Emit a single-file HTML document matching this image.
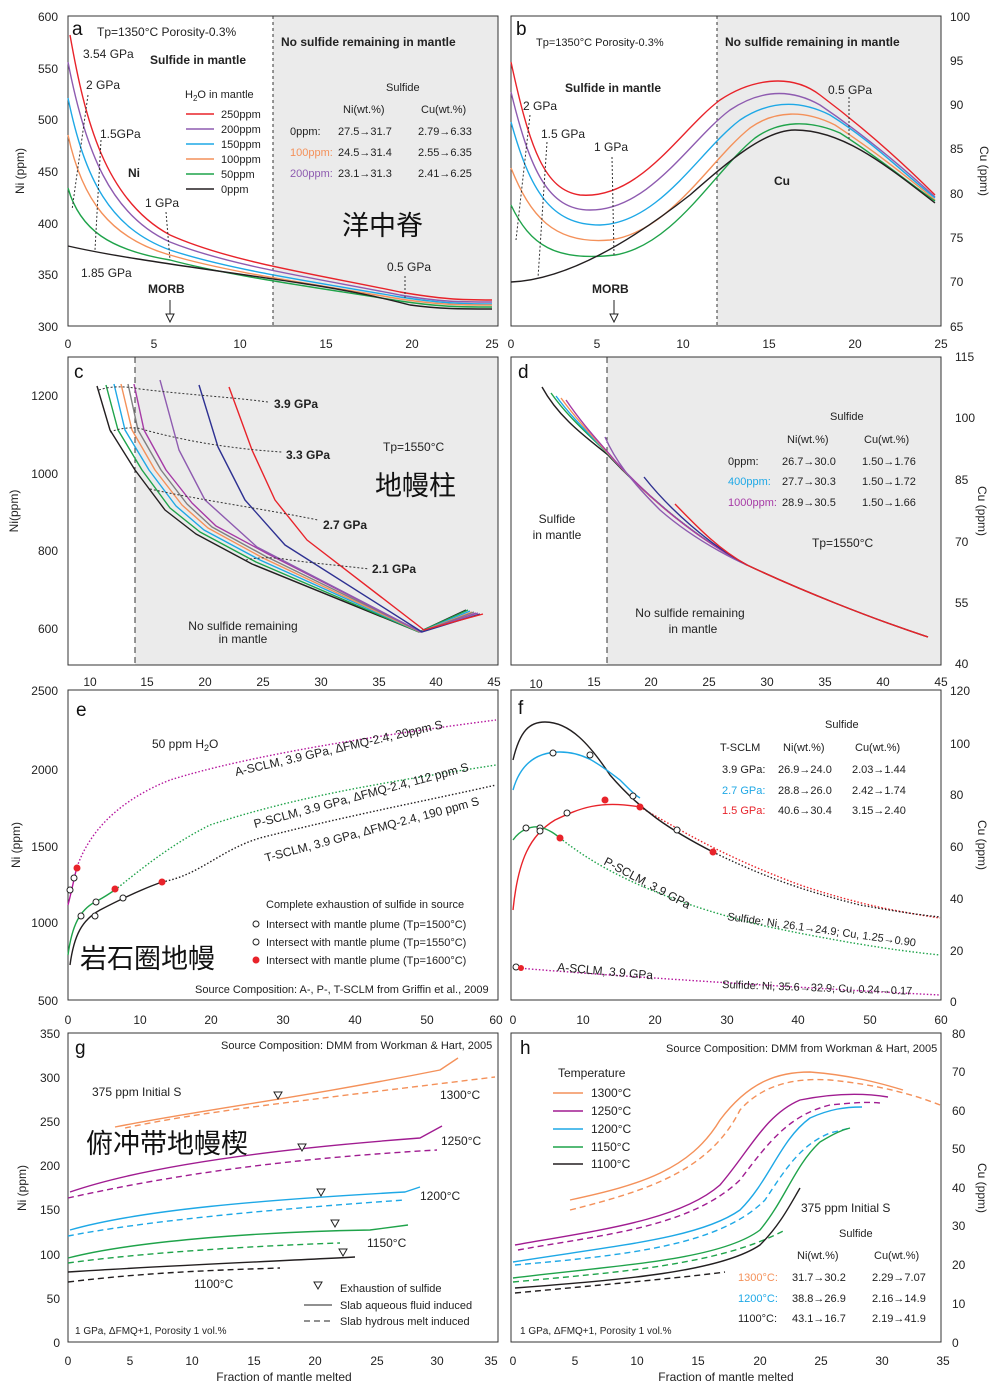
<!DOCTYPE html>
<html><head><meta charset="utf-8"><style>
body{margin:0;background:#fff}
svg{display:block;font-family:"Liberation Sans","Noto Sans CJK SC",sans-serif}
.t{font-size:12px;fill:#222}
.s{font-size:11px;fill:#222}
.L{font-size:19px;fill:#111}
.b{font-weight:bold}
.ax{fill:none;stroke:#333;stroke-width:1}
.c{fill:none;stroke-width:1.4;stroke-linejoin:round}
.d{fill:none;stroke:#333;stroke-width:1;stroke-dasharray:2 2}
.cj{font-size:27px;fill:#111}
</style></head><body>
<svg width="1000" height="1389" viewBox="0 0 1000 1389">
<!-- shaded regions -->
<rect x="273" y="16" width="225" height="310" fill="#ebebeb"/>
<rect x="717" y="16" width="224" height="310" fill="#ebebeb"/>
<rect x="135" y="357" width="363" height="308" fill="#ebebeb"/>
<rect x="607" y="357" width="334" height="308" fill="#ebebeb"/>
<!-- frames -->
<rect class="ax" x="68" y="16" width="430" height="310"/>
<rect class="ax" x="511" y="16" width="430" height="310"/>
<rect class="ax" x="68" y="357" width="430" height="308"/>
<rect class="ax" x="511" y="357" width="430" height="308"/>
<rect class="ax" x="68" y="690" width="430" height="310"/>
<rect class="ax" x="511" y="690" width="430" height="310"/>
<rect class="ax" x="68" y="1033" width="430" height="309"/>
<rect class="ax" x="511" y="1033" width="430" height="309"/>
<line x1="273" y1="16" x2="273" y2="326" stroke="#333" stroke-dasharray="3 3"/>
<line x1="717" y1="16" x2="717" y2="326" stroke="#333" stroke-dasharray="3 3"/>
<line x1="135" y1="357" x2="135" y2="665" stroke="#333" stroke-dasharray="6 4"/>
<line x1="607" y1="357" x2="607" y2="665" stroke="#333" stroke-dasharray="6 4"/>

<!-- ===== Panel a ===== -->
<g class="t" text-anchor="end">
<text x="58" y="21">600</text><text x="58" y="73">550</text><text x="58" y="124">500</text><text x="58" y="176">450</text><text x="58" y="228">400</text><text x="58" y="279">350</text><text x="58" y="331">300</text>
</g>
<g class="t" text-anchor="middle">
<text x="68" y="348">0</text><text x="154" y="348">5</text><text x="240" y="348">10</text><text x="326" y="348">15</text><text x="412" y="348">20</text><text x="492" y="348">25</text>
<text x="511" y="348">0</text><text x="597" y="348">5</text><text x="683" y="348">10</text><text x="769" y="348">15</text><text x="855" y="348">20</text><text x="941" y="348">25</text>
</g>
<text class="t" transform="translate(24,171) rotate(-90)" text-anchor="middle" font-size="13">Ni (ppm)</text>
<g fill="none" class="c">
<path stroke="#e8232a" d="M70,35 C85,120 105,200 170,235 C230,262 320,275 400,292 C440,299 460,300 492,300"/>
<path stroke="#8e5bb0" d="M68,62 C85,150 110,215 170,242 C230,266 320,279 400,295 C440,302 460,302 492,302"/>
<path stroke="#1ea8e6" d="M68,98 C85,180 110,228 170,250 C230,270 320,283 400,297 C440,303 460,304 492,304"/>
<path stroke="#f4915a" d="M68,135 C82,200 110,238 170,255 C230,273 320,285 400,299 C440,305 460,305 492,305"/>
<path stroke="#1fa34a" d="M68,188 C80,230 110,250 170,260 C230,276 320,288 400,301 C440,307 460,307 492,307"/>
<path stroke="#231f20" d="M68,246 C120,258 200,268 300,283 C360,292 390,300 410,305 C440,309 460,309 492,309"/>
</g>
<g class="d"><line x1="88" y1="95" x2="72" y2="210"/><line x1="101" y1="140" x2="95" y2="250"/><line x1="166" y1="212" x2="170" y2="260"/><line x1="405" y1="276" x2="405" y2="300"/></g>
<text x="72" y="35" class="L">a</text>
<text x="97" y="36" class="t">Tp=1350°C  Porosity-0.3%</text>
<text x="83" y="58" class="t">3.54 GPa</text>
<text x="150" y="64" class="t b">Sulfide in mantle</text>
<text x="86" y="89" class="t">2 GPa</text>
<text x="100" y="138" class="t">1.5GPa</text>
<text x="128" y="177" class="t b">Ni</text>
<text x="145" y="207" class="t">1 GPa</text>
<text x="81" y="277" class="t">1.85 GPa</text>
<text x="148" y="293" class="t b">MORB</text>
<line x1="170" y1="300" x2="170" y2="322" stroke="#222"/><path d="M166,314 L170,322 L174,314Z" fill="#fff" stroke="#222"/>
<text x="387" y="271" class="t">0.5 GPa</text>
<text x="185" y="98" class="s">H<tspan font-size="8" dy="3">2</tspan><tspan dy="-3">O in mantle</tspan></text>
<g stroke-width="1.5"><line x1="186" y1="114" x2="214" y2="114" stroke="#e8232a"/><line x1="186" y1="129" x2="214" y2="129" stroke="#8e5bb0"/><line x1="186" y1="144" x2="214" y2="144" stroke="#1ea8e6"/><line x1="186" y1="159" x2="214" y2="159" stroke="#f4915a"/><line x1="186" y1="174" x2="214" y2="174" stroke="#1fa34a"/><line x1="186" y1="189" x2="214" y2="189" stroke="#231f20"/></g>
<g class="s"><text x="221" y="118">250ppm</text><text x="221" y="133">200ppm</text><text x="221" y="148">150ppm</text><text x="221" y="163">100ppm</text><text x="221" y="178">50ppm</text><text x="221" y="193">0ppm</text></g>
<text x="281" y="46" class="t b">No sulfide remaining in mantle</text>
<text x="386" y="91" class="s">Sulfide</text>
<g class="s"><text x="343" y="113">Ni(wt.%)</text><text x="421" y="113">Cu(wt.%)</text>
<text x="290" y="135">0ppm:</text><text x="338" y="135">27.5→31.7</text><text x="418" y="135">2.79→6.33</text>
<text x="290" y="156" fill="#f4915a">100ppm:</text><text x="338" y="156">24.5→31.4</text><text x="418" y="156">2.55→6.35</text>
<text x="290" y="177" fill="#8e5bb0">200ppm:</text><text x="338" y="177">23.1→31.3</text><text x="418" y="177">2.41→6.25</text></g>
<text x="342" y="235" class="cj">洋中脊</text>

<!-- ===== Panel b ===== -->
<g class="t"><text x="950" y="21">100</text><text x="950" y="65">95</text><text x="950" y="109">90</text><text x="950" y="153">85</text><text x="950" y="198">80</text><text x="950" y="242">75</text><text x="950" y="286">70</text><text x="950" y="331">65</text></g>
<text class="t" transform="translate(980,171) rotate(90)" text-anchor="middle" font-size="13">Cu (ppm)</text>
<g class="c">
<path stroke="#e8232a" d="M511,62 C530,150 545,190 580,195 C640,200 680,130 720,100 C750,80 790,72 820,95 C860,125 900,160 935,195"/>
<path stroke="#8e5bb0" d="M511,92 C530,170 548,210 590,210 C650,210 690,140 730,110 C760,90 790,88 820,105 C860,132 900,165 935,197"/>
<path stroke="#1ea8e6" d="M511,122 C530,190 550,225 600,225 C660,223 700,150 740,120 C770,100 800,100 830,115 C870,140 900,170 935,198"/>
<path stroke="#f4915a" d="M511,168 C530,215 553,245 610,240 C670,232 710,160 750,128 C775,110 805,110 835,125 C870,148 905,175 935,200"/>
<path stroke="#1fa34a" d="M511,205 C530,245 555,262 615,255 C675,245 715,170 755,138 C780,120 810,120 840,133 C875,155 905,180 935,201"/>
<path stroke="#231f20" d="M511,282 C560,280 620,250 690,195 C730,160 765,130 795,130 C840,130 880,160 935,203"/>
</g>
<g class="d"><line x1="530" y1="115" x2="516" y2="240"/><line x1="547" y1="142" x2="538" y2="278"/><line x1="612" y1="157" x2="614" y2="255"/><line x1="849" y1="97" x2="849" y2="140"/></g>
<text x="516" y="35" class="L">b</text>
<text x="536" y="46" class="s">Tp=1350°C  Porosity-0.3%</text>
<text x="725" y="46" class="t b">No sulfide remaining in mantle</text>
<text x="565" y="92" class="t b">Sulfide in mantle</text>
<text x="523" y="110" class="t">2 GPa</text>
<text x="541" y="138" class="t">1.5 GPa</text>
<text x="594" y="151" class="t">1 GPa</text>
<text x="828" y="94" class="t">0.5 GPa</text>
<text x="774" y="185" class="t b">Cu</text>
<text x="592" y="293" class="t b">MORB</text>
<line x1="614" y1="300" x2="614" y2="322" stroke="#222"/><path d="M610,314 L614,322 L618,314Z" fill="#fff" stroke="#222"/>

<!-- ===== Panel c ===== -->
<g class="t" text-anchor="end"><text x="58" y="400">1200</text><text x="58" y="478">1000</text><text x="58" y="555">800</text><text x="58" y="633">600</text></g>
<g class="t" text-anchor="middle"><text x="90" y="686">10</text><text x="147" y="686">15</text><text x="205" y="686">20</text><text x="263" y="686">25</text><text x="321" y="686">30</text><text x="379" y="686">35</text><text x="436" y="686">40</text><text x="494" y="686">45</text>
<text x="536" y="688">10</text><text x="594" y="686">15</text><text x="651" y="686">20</text><text x="709" y="686">25</text><text x="767" y="686">30</text><text x="825" y="686">35</text><text x="883" y="686">40</text><text x="941" y="686">45</text></g>
<text class="t" transform="translate(18,511) rotate(-90)" text-anchor="middle" font-size="13">Ni(ppm)</text>
<g class="c" stroke-width="1.2">
<polyline stroke="#231f20" points="97,386 110,430 135,470 165,510 196,534 252,564 419,632 466,610"/>
<polyline stroke="#1fa34a" points="106,385 118,430 142,470 170,508 200,532 256,562 419,632 468,610"/>
<polyline stroke="#1ea8e6" points="114,384 125,430 149,470 176,506 204,530 260,560 420,632 470,611"/>
<polyline stroke="#f4915a" points="121,384 132,430 155,470 182,505 208,528 263,558 420,632 472,612"/>
<polyline stroke="#808080" points="128,384 138,430 161,470 187,504 212,527 265,556 421,632 474,612"/>
<polyline stroke="#a63aa6" points="134,384 144,430 166,470 192,503 216,526 268,554 421,632 476,613"/>
<polyline stroke="#8e5bb0" points="160,380 179,450 205,500 257,547 421,632 478,613"/>
<polyline stroke="#2e3192" points="199,385 218,447 245,500 285,545 422,632 480,614"/>
<polyline stroke="#e8232a" points="229,387 252,450 275,500 307,540 424,630 483,614"/>
</g>
<g class="d"><path d="M99,390 C110,386 125,386 140,389 C190,395 230,397 268,402"/><path d="M110,432 C120,428 135,426 145,430 C200,445 250,450 282,452"/><path d="M150,489 C200,500 270,510 318,520"/><path d="M246,560 C258,557 275,557 290,560 C320,564 345,566 369,569"/></g>
<text x="74" y="378" class="L">c</text>
<text x="274" y="408" class="t b">3.9 GPa</text>
<text x="286" y="459" class="t b">3.3 GPa</text>
<text x="323" y="529" class="t b">2.7 GPa</text>
<text x="372" y="573" class="t b">2.1 GPa</text>
<text x="383" y="451" class="t" font-size="13">Tp=1550°C</text>
<text x="375" y="495" class="cj">地幔柱</text>
<text x="243" y="630" class="t" text-anchor="middle">No sulfide remaining</text>
<text x="243" y="643" class="t" text-anchor="middle">in mantle</text>

<!-- ===== Panel d ===== -->
<g class="t"><text x="955" y="361">115</text><text x="955" y="422">100</text><text x="955" y="484">85</text><text x="955" y="546">70</text><text x="955" y="607">55</text><text x="955" y="668">40</text></g>
<text class="t" transform="translate(978,511) rotate(90)" text-anchor="middle" font-size="13">Cu (ppm)</text>
<g class="c" stroke-width="1.2">
<path stroke="#231f20" d="M542,387 C560,420 590,440 608,455 C650,500 700,540 747,565 C800,590 870,618 928,637"/>
<path stroke="#1fa34a" d="M551,393 C570,420 595,440 610,456 C650,500 700,540 747,565"/>
<path stroke="#1ea8e6" d="M556,396 C575,422 598,442 612,458 C652,502 700,540 747,565"/>
<path stroke="#f4915a" d="M561,398 C580,424 600,444 614,460 C654,504 700,540 747,565"/>
<path stroke="#a63aa6" d="M566,400 C585,428 604,447 616,462 C656,505 700,540 747,565"/>
<path stroke="#8e5bb0" d="M605,437 C615,460 630,480 660,510 C700,545 747,565 747,565"/>
<path stroke="#2e3192" d="M644,477 C670,510 710,545 747,565"/>
<path stroke="#e8232a" d="M675,504 C700,530 720,550 747,565 C800,590 870,618 928,637"/>
</g>
<text x="518" y="378" class="L">d</text>
<g class="s"><text x="830" y="420">Sulfide</text><text x="787" y="443">Ni(wt.%)</text><text x="864" y="443">Cu(wt.%)</text>
<text x="728" y="465">0ppm:</text><text x="782" y="465">26.7→30.0</text><text x="862" y="465">1.50→1.76</text>
<text x="728" y="485" fill="#1ea8e6">400ppm:</text><text x="782" y="485">27.7→30.3</text><text x="862" y="485">1.50→1.72</text>
<text x="728" y="506" fill="#a63aa6">1000ppm:</text><text x="782" y="506">28.9→30.5</text><text x="862" y="506">1.50→1.66</text></g>
<text x="812" y="547" class="t" font-size="13">Tp=1550°C</text>
<text x="557" y="523" class="t" text-anchor="middle">Sulfide</text><text x="557" y="539" class="t" text-anchor="middle">in mantle</text>
<text x="690" y="617" class="t" text-anchor="middle">No sulfide remaining</text><text x="693" y="633" class="t" text-anchor="middle">in mantle</text>

<!-- ===== Panel e ===== -->
<g class="t" text-anchor="end"><text x="58" y="695">2500</text><text x="58" y="774">2000</text><text x="58" y="851">1500</text><text x="58" y="927">1000</text><text x="58" y="1005">500</text></g>
<g class="t" text-anchor="middle"><text x="68" y="1024">0</text><text x="140" y="1024">10</text><text x="211" y="1024">20</text><text x="283" y="1024">30</text><text x="355" y="1024">40</text><text x="427" y="1024">50</text><text x="496" y="1024">60</text>
<text x="513" y="1024">0</text><text x="583" y="1024">10</text><text x="655" y="1024">20</text><text x="727" y="1024">30</text><text x="798" y="1024">40</text><text x="870" y="1024">50</text><text x="941" y="1024">60</text></g>
<text class="t" transform="translate(20,845) rotate(-90)" text-anchor="middle" font-size="13">Ni (ppm)</text>
<path class="c" stroke="#b5179e" stroke-dasharray="1.5 2" d="M77,867 C90,830 120,800 170,780 C250,755 380,735 496,720"/>
<path class="c" stroke="#1fa34a" stroke-dasharray="1.5 2" d="M115,890 C140,870 170,845 210,825 C300,795 400,780 496,765"/>
<path class="c" stroke="#231f20" stroke-dasharray="1.5 2" d="M162,882 C200,875 220,850 260,838 C350,815 430,800 496,785"/>
<path class="c" stroke="#b5179e" d="M68,905 C72,890 74,878 77,867"/>
<path class="c" stroke="#1fa34a" d="M68,955 C72,925 80,910 95,902 C105,897 110,893 115,890"/>
<path class="c" stroke="#231f20" d="M70,965 C74,935 82,920 100,910 C125,897 145,888 162,882"/>
<g fill="#fff" stroke="#222"><circle cx="70" cy="890" r="3"/><circle cx="74" cy="878" r="3"/><circle cx="81" cy="916" r="3"/><circle cx="96" cy="902" r="3"/><circle cx="95" cy="916" r="3"/><circle cx="123" cy="898" r="3"/></g>
<g fill="#e8232a"><circle cx="77" cy="868" r="3.5"/><circle cx="115" cy="889" r="3.5"/><circle cx="162" cy="882" r="3.5"/></g>
<text x="76" y="716" class="L">e</text>
<text x="152" y="748" class="t" font-size="13">50 ppm H<tspan font-size="9" dy="3">2</tspan><tspan dy="-3">O</tspan></text>
<text class="t" fill="#b5179e" transform="translate(236,776) rotate(-13)">A-SCLM, 3.9 GPa, ΔFMQ-2.4, 20ppm S</text>
<text class="t" fill="#1fa34a" transform="translate(255,828) rotate(-15)">P-SCLM, 3.9 GPa, ΔFMQ-2.4, 112 ppm S</text>
<text class="t" transform="translate(266,862) rotate(-15)">T-SCLM, 3.9 GPa, ΔFMQ-2.4, 190 ppm S</text>
<g class="s"><text x="266" y="908">Complete exhaustion of sulfide in source</text><text x="266" y="928">Intersect with mantle plume (Tp=1500°C)</text><text x="266" y="946">Intersect with mantle plume (Tp=1550°C)</text><text x="266" y="964">Intersect with mantle plume (Tp=1600°C)</text>
<text x="195" y="993">Source Composition: A-, P-, T-SCLM from Griffin et al., 2009</text></g>
<circle cx="256" cy="924" r="3" fill="#fff" stroke="#222"/><circle cx="256" cy="942" r="3" fill="#fff" stroke="#222"/><circle cx="256" cy="960" r="3.5" fill="#e8232a"/>
<text x="80" y="968" class="cj">岩石圈地幔</text>

<!-- ===== Panel f ===== -->
<g class="t"><text x="950" y="695">120</text><text x="950" y="748">100</text><text x="950" y="799">80</text><text x="950" y="851">60</text><text x="950" y="903">40</text><text x="950" y="955">20</text><text x="950" y="1006">0</text></g>
<text class="t" transform="translate(978,845) rotate(90)" text-anchor="middle" font-size="13">Cu (ppm)</text>
<path class="c" stroke="#b5179e" stroke-dasharray="1.5 2" d="M518,968 C600,975 800,988 940,995"/>
<path class="c" stroke="#1fa34a" stroke-dasharray="1.5 2" d="M560,838 C600,870 660,900 760,925 C830,940 890,950 940,955"/>
<path class="c" stroke="#e8232a" stroke-dasharray="1.5 2" d="M640,807 C680,830 720,855 800,885 C860,905 900,912 940,918"/>
<path class="c" stroke="#231f20" stroke-dasharray="1.5 2" d="M713,852 C760,875 800,890 860,905 C900,912 920,915 940,917"/>
<path class="c" stroke="#231f20" d="M513,760 C520,730 530,722 545,722 C570,722 590,745 610,775 C640,810 670,830 713,852"/>
<path class="c" stroke="#1ea8e6" d="M513,790 C520,765 535,752 560,752 C585,752 600,765 620,780 C630,790 635,795 640,798"/>
<path class="c" stroke="#e8232a" d="M513,910 C518,860 530,835 555,820 C580,808 600,800 640,807"/>
<path class="c" stroke="#1fa34a" d="M513,840 C520,830 530,826 540,827 C550,830 555,834 560,838"/>
<g fill="#fff" stroke="#222"><circle cx="553" cy="753" r="3"/><circle cx="590" cy="755" r="3"/><circle cx="633" cy="796" r="3"/><circle cx="677" cy="830" r="3"/><circle cx="526" cy="828" r="3"/><circle cx="540" cy="828" r="3"/><circle cx="567" cy="813" r="3"/><circle cx="540" cy="831" r="3"/><circle cx="516" cy="967" r="3"/></g>
<g fill="#e8232a"><circle cx="605" cy="800" r="3.5"/><circle cx="640" cy="807" r="3.5"/><circle cx="713" cy="852" r="3.5"/><circle cx="560" cy="838" r="3.5"/><circle cx="521" cy="968" r="3"/></g>
<text x="518" y="714" class="L">f</text>
<g class="s"><text x="825" y="728">Sulfide</text><text x="720" y="751">T-SCLM</text><text x="783" y="751">Ni(wt.%)</text><text x="855" y="751">Cu(wt.%)</text>
<text x="722" y="773">3.9 GPa:</text><text x="778" y="773">26.9→24.0</text><text x="852" y="773">2.03→1.44</text>
<text x="722" y="794" fill="#1ea8e6">2.7 GPa:</text><text x="778" y="794">28.8→26.0</text><text x="852" y="794">2.42→1.74</text>
<text x="722" y="814" fill="#e8232a">1.5 GPa:</text><text x="778" y="814">40.6→30.4</text><text x="852" y="814">3.15→2.40</text></g>
<text class="t" fill="#1fa34a" transform="translate(603,864) rotate(28)">P-SCLM, 3.9 GPa</text>
<text class="s" transform="translate(727,920) rotate(8)">Sulfide: Ni, 26.1→24.9; Cu, 1.25→0.90</text>
<text class="t" fill="#b5179e" transform="translate(557,971) rotate(5)">A-SCLM, 3.9 GPa</text>
<text class="s" transform="translate(722,988) rotate(2)">Sulfide: Ni, 35.6→32.9; Cu, 0.24→0.17</text>

<!-- ===== Panel g ===== -->
<g class="t" text-anchor="end"><text x="60" y="1038">350</text><text x="60" y="1082">300</text><text x="60" y="1126">250</text><text x="60" y="1170">200</text><text x="60" y="1214">150</text><text x="60" y="1259">100</text><text x="60" y="1303">50</text><text x="60" y="1347">0</text></g>
<g class="t" text-anchor="middle"><text x="68" y="1365">0</text><text x="130" y="1365">5</text><text x="192" y="1365">10</text><text x="254" y="1365">15</text><text x="315" y="1365">20</text><text x="377" y="1365">25</text><text x="437" y="1365">30</text><text x="491" y="1365">35</text>
<text x="513" y="1365">0</text><text x="575" y="1365">5</text><text x="637" y="1365">10</text><text x="698" y="1365">15</text><text x="760" y="1365">20</text><text x="821" y="1365">25</text><text x="882" y="1365">30</text><text x="943" y="1365">35</text></g>
<text x="284" y="1381" class="t" font-size="13" text-anchor="middle">Fraction of mantle melted</text>
<text x="726" y="1381" class="t" font-size="13" text-anchor="middle">Fraction of mantle melted</text>
<text class="t" transform="translate(26,1188) rotate(-90)" text-anchor="middle" font-size="13">Ni (ppm)</text>
<g class="c" stroke-width="1.2">
<path stroke="#f4915a" d="M115,1127 C200,1110 300,1098 440,1070 L458,1058"/>
<path stroke="#f4915a" stroke-dasharray="6 4" d="M125,1128 C200,1112 290,1102 495,1077"/>
<path stroke="#a01c91" d="M70,1192 C140,1168 260,1150 420,1138 L442,1126"/>
<path stroke="#a01c91" stroke-dasharray="6 4" d="M68,1198 C150,1180 260,1160 437,1150"/>
<path stroke="#1ea8e6" d="M70,1230 C140,1210 260,1200 405,1192 L420,1187"/>
<path stroke="#1ea8e6" stroke-dasharray="6 4" d="M68,1236 C140,1222 260,1210 405,1200"/>
<path stroke="#1fa34a" d="M68,1258 C130,1242 250,1232 370,1230 L408,1225"/>
<path stroke="#1fa34a" stroke-dasharray="6 4" d="M68,1263 C140,1253 250,1246 340,1243"/>
<path stroke="#231f20" d="M68,1272 C160,1266 260,1262 355,1257"/>
<path stroke="#231f20" stroke-dasharray="6 4" d="M68,1282 C150,1272 220,1270 280,1268"/>
</g>
<g fill="#fff" stroke="#222"><path d="M274,1092 L282,1092 L278,1099Z"/><path d="M298,1144 L306,1144 L302,1151Z"/><path d="M317,1189 L325,1189 L321,1196Z"/><path d="M331,1220 L339,1220 L335,1227Z"/><path d="M339,1249 L347,1249 L343,1256Z"/></g>
<text x="75" y="1054" class="L">g</text>
<text x="221" y="1049" class="s">Source Composition: DMM from Workman &amp; Hart, 2005</text>
<text x="92" y="1096" class="t" font-size="16">375 ppm Initial S</text>
<text x="86" y="1153" class="cj">俯冲带地幔楔</text>
<text x="440" y="1099" class="t">1300°C</text>
<text x="441" y="1145" class="t">1250°C</text>
<text x="420" y="1200" class="t">1200°C</text>
<text x="367" y="1247" class="t">1150°C</text>
<text x="194" y="1288" class="t">1100°C</text>
<path d="M314,1282 L322,1282 L318,1289Z" fill="#fff" stroke="#222"/>
<g class="s"><text x="340" y="1292">Exhaustion of sulfide</text><text x="340" y="1309">Slab aqueous fluid induced</text><text x="340" y="1325">Slab hydrous melt induced</text>
<text x="75" y="1334" font-size="10">1 GPa, ΔFMQ+1, Porosity 1 vol.%</text></g>
<line x1="304" y1="1305" x2="332" y2="1305" stroke="#222"/><line x1="304" y1="1321" x2="332" y2="1321" stroke="#222" stroke-dasharray="6 4"/>

<!-- ===== Panel h ===== -->
<g class="t"><text x="952" y="1038">80</text><text x="952" y="1076">70</text><text x="952" y="1115">60</text><text x="952" y="1153">50</text><text x="952" y="1192">40</text><text x="952" y="1230">30</text><text x="952" y="1269">20</text><text x="952" y="1308">10</text><text x="952" y="1347">0</text></g>
<text class="t" transform="translate(978,1188) rotate(90)" text-anchor="middle" font-size="13">Cu (ppm)</text>
<g class="c" stroke-width="1.2">
<path stroke="#f4915a" d="M570,1200 C640,1185 690,1170 720,1120 C750,1080 780,1072 810,1072 C850,1075 880,1083 903,1090"/>
<path stroke="#f4915a" stroke-dasharray="6 4" d="M570,1210 C650,1190 710,1170 740,1110 C765,1082 800,1078 830,1080 C880,1085 915,1095 940,1105"/>
<path stroke="#a01c91" d="M515,1245 C600,1230 680,1220 720,1185 C750,1150 765,1115 800,1100 C840,1092 870,1094 888,1097"/>
<path stroke="#a01c91" stroke-dasharray="6 4" d="M518,1250 C600,1235 690,1228 740,1180 C770,1140 790,1115 830,1105 C860,1102 870,1102 880,1103"/>
<path stroke="#1ea8e6" d="M513,1262 C620,1245 700,1238 740,1210 C770,1180 780,1140 810,1118 C830,1109 845,1107 862,1107"/>
<path stroke="#1ea8e6" stroke-dasharray="6 4" d="M515,1265 C630,1255 720,1245 765,1200 C785,1170 800,1145 830,1133 L850,1128"/>
<path stroke="#1fa34a" d="M513,1278 C620,1265 720,1260 760,1230 C785,1200 795,1165 820,1142 C835,1133 842,1130 850,1128"/>
<path stroke="#1fa34a" stroke-dasharray="6 4" d="M513,1282 C620,1272 720,1265 785,1230"/>
<path stroke="#231f20" d="M515,1288 C620,1280 720,1272 760,1245 C780,1225 790,1205 800,1188"/>
<path stroke="#231f20" stroke-dasharray="6 4" d="M515,1293 C600,1285 680,1278 725,1272"/>
</g>
<text x="520" y="1054" class="L">h</text>
<text x="666" y="1052" class="s">Source Composition: DMM from Workman &amp; Hart, 2005</text>
<text x="558" y="1077" class="t">Temperature</text>
<g stroke-width="1.5"><line x1="553" y1="1093" x2="583" y2="1093" stroke="#f4915a"/><line x1="553" y1="1111" x2="583" y2="1111" stroke="#a01c91"/><line x1="553" y1="1129" x2="583" y2="1129" stroke="#1ea8e6"/><line x1="553" y1="1147" x2="583" y2="1147" stroke="#1fa34a"/><line x1="553" y1="1164" x2="583" y2="1164" stroke="#231f20"/></g>
<g class="t"><text x="591" y="1097">1300°C</text><text x="591" y="1115">1250°C</text><text x="591" y="1133">1200°C</text><text x="591" y="1151">1150°C</text><text x="591" y="1168">1100°C</text></g>
<text x="801" y="1212" class="t" font-size="16">375 ppm Initial S</text>
<g class="s"><text x="839" y="1237">Sulfide</text><text x="797" y="1259">Ni(wt.%)</text><text x="874" y="1259">Cu(wt.%)</text>
<text x="738" y="1281" fill="#f4915a">1300°C:</text><text x="792" y="1281">31.7→30.2</text><text x="872" y="1281">2.29→7.07</text>
<text x="738" y="1302" fill="#1ea8e6">1200°C:</text><text x="792" y="1302">38.8→26.9</text><text x="872" y="1302">2.16→14.9</text>
<text x="738" y="1322">1100°C:</text><text x="792" y="1322">43.1→16.7</text><text x="872" y="1322">2.19→41.9</text>
<text x="520" y="1334" font-size="10">1 GPa, ΔFMQ+1, Porosity 1 vol.%</text></g>
</svg>
</body></html>
